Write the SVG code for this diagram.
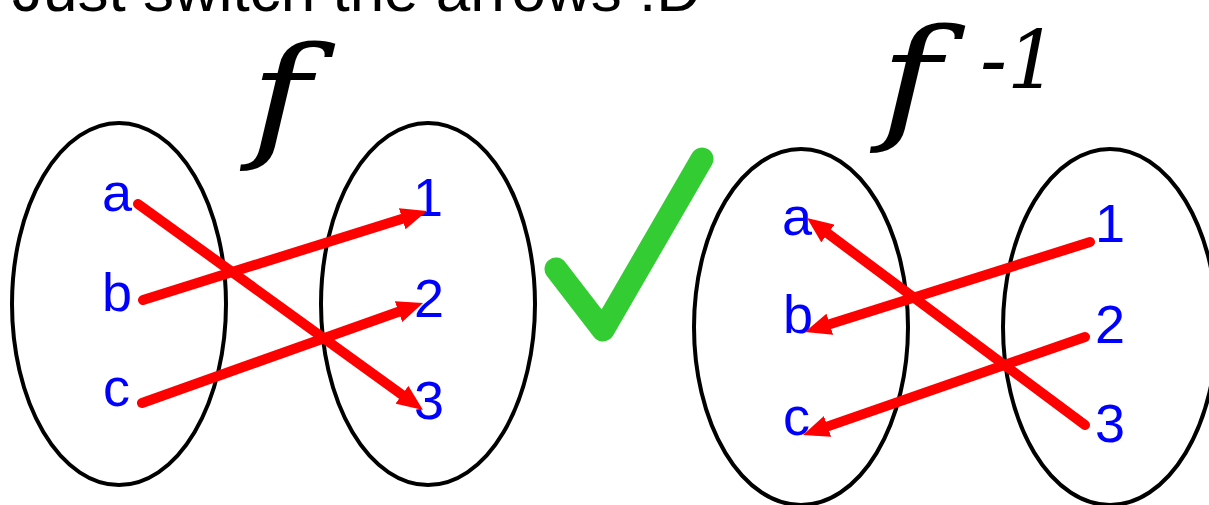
<svg xmlns="http://www.w3.org/2000/svg" width="1209" height="505" viewBox="0 0 1209 505">
<style>
.set{fill:none;stroke:#000;stroke-width:4}
.lbl{font-family:"Liberation Sans",Arial,sans-serif;font-size:54px;fill:#0000ff}
.fn{font-family:"DejaVu Serif",serif;font-style:italic;fill:#000}
.big{font-size:135px}
.arr{stroke:#ff0000;stroke-width:10;stroke-linecap:round;fill:none;marker-end:url(#ah)}
</style>
<defs>
<marker id="ah" markerUnits="userSpaceOnUse" markerWidth="26" markerHeight="22" refX="12" refY="11" orient="auto">
<path d="M0,0 L26,11 L0,22 z" fill="#ff0000"/>
</marker>
</defs>
<rect width="1209" height="505" fill="#fff"/>
<text x="12" y="11" font-family="Liberation Sans,Arial,sans-serif" font-size="62" fill="#000">Just switch the arrows :D</text>
<g id="title-f"><text class="fn big" transform="translate(250,143) scale(1.22,1)">f</text></g>
<g id="title-finv"><text class="fn big" transform="translate(880,125) scale(1.22,1)">f</text><text class="fn" x="980" y="88" font-size="80">-1</text></g>
<g id="domain-left"><ellipse class="set" cx="119" cy="304" rx="107" ry="181"/>
<text class="lbl" x="102" y="211">a</text><text class="lbl" x="102" y="311">b</text><text class="lbl" x="103" y="406">c</text></g>
<g id="codomain-left"><ellipse class="set" cx="428" cy="304" rx="107" ry="181"/>
<text class="lbl" x="413" y="216">1</text><text class="lbl" x="414" y="317">2</text><text class="lbl" x="414" y="419">3</text></g>
<g id="domain-right"><ellipse class="set" cx="801" cy="327" rx="107" ry="178"/>
<text class="lbl" x="782" y="235">a</text><text class="lbl" x="783" y="333">b</text><text class="lbl" x="783" y="435">c</text></g>
<g id="codomain-right"><ellipse class="set" cx="1110" cy="327" rx="107" ry="178"/>
<text class="lbl" x="1095" y="242">1</text><text class="lbl" x="1095" y="343">2</text><text class="lbl" x="1095" y="442">3</text></g>
<g id="check"><polyline points="556,269 603,330 702,159" fill="none" stroke="#33cc33" stroke-width="23" stroke-linecap="round" stroke-linejoin="round"/></g>
<g id="connectors">
<line class="arr" x1="138" y1="204" x2="411.65" y2="401.8"/>
<line class="arr" x1="143" y1="300" x2="413.64" y2="215.19"/>
<line class="arr" x1="142" y1="403" x2="409.81" y2="307.69"/>
<line class="arr" x1="1085" y1="425" x2="818.23" y2="226.36"/>
<line class="arr" x1="1090" y1="242" x2="818.35" y2="327.78"/>
<line class="arr" x1="1085" y1="337" x2="816.23" y2="430.4"/>
</g>
</svg>
